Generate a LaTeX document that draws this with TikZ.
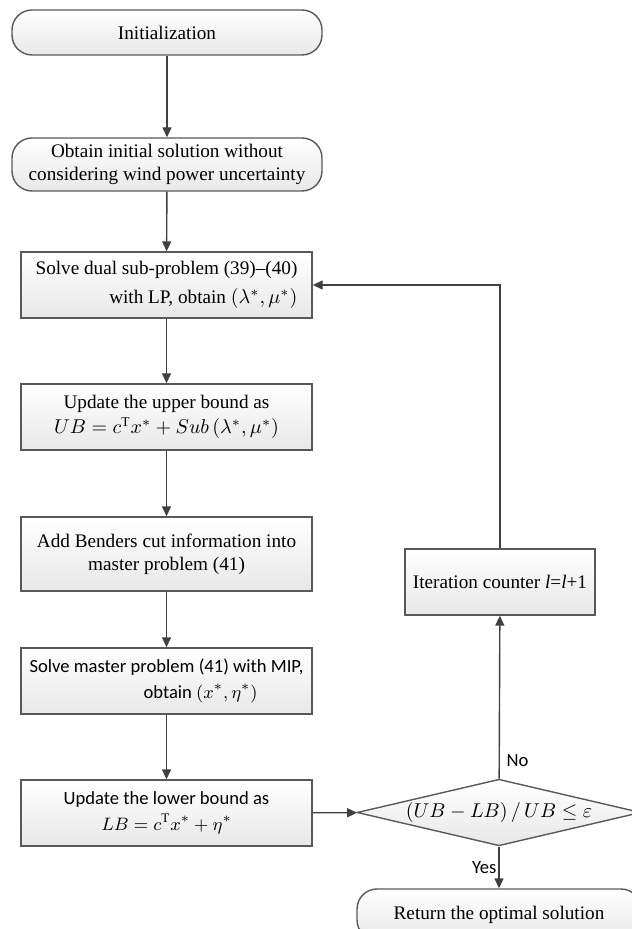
\documentclass[tikz,border=0pt]{standalone}
\usepackage{fontspec}
\setmainfont{Liberation Serif}
\setsansfont{Carlito}
\usetikzlibrary{shapes.geometric,arrows.meta}

\begin{document}
\begin{tikzpicture}[x=0.5pt,y=-0.5pt]
  \tikzstyle{box}=[draw=black!65, line width=0.7pt, top color=white, bottom color=black!9,
    minimum width=145.5pt, minimum height=33pt, inner sep=2pt, font=\fontsize{9.6}{11.5}\selectfont]
  \tikzstyle{term}=[box, rounded corners=10pt]
  \tikzstyle{decision}=[box, diamond, aspect=4, inner sep=0pt, minimum width=142pt, minimum height=32.5pt]
  \tikzstyle{arrow}=[draw=black!75, line width=0.7pt, -{Triangle[length=5pt,width=4.5pt]}]
  \tikzstyle{sans}=[font=\sffamily\fontsize{9.3}{11.8}\selectfont]

  \useasboundingbox (0,0) rectangle (631,929);

  \node[term, minimum width=155pt, minimum height=22.5pt] (init) at (167, 32.5) {Initialization};
  \node[term, minimum width=155pt, minimum height=26.5pt, align=center] (obtain) at (167, 164.5)
    {Obtain initial solution without\\considering wind power uncertainty};
  \node[box, align=right] (dual) at (166.5, 285)
    {Solve dual sub-problem (39)--(40)\\[3pt]with LP, obtain $\left(\lambda^{*},\mu^{*}\right)$};
  \node[box, align=center] (upper) at (166.5, 417)
    {Update the upper bound as\\[1pt]$UB=c^{\mathrm{T}}x^{*}+Sub\left(\lambda^{*},\mu^{*}\right)$};
  \node[box, minimum height=37pt, align=center] (benders) at (166.5, 554)
    {Add Benders cut information into\\master problem (41)};
  \node[box, sans, align=left] (master) at (166.5, 681)
    {Solve master problem (41) with MIP,\\[1pt]\hspace*{57pt}obtain $\left(x^{*},\eta^{*}\right)$};
  \node[box, sans, align=center] (lower) at (166.5, 813)
    {Update the lower bound as\\[1pt]$LB=c^{\mathrm{T}}x^{*}+\eta^{*}$};

  \node[decision] (dec) at (499, 812.5) {$\left(UB-LB\right)/\,UB\leq\varepsilon$};
  \node[box, minimum width=95pt] (iter) at (500, 582) {Iteration counter \textit{l}=\textit{l}+1};
  \node[term, minimum width=142pt, minimum height=25.5pt] (ret) at (499, 914.5) {Return the optimal solution};

  \draw[arrow] (init) -- (obtain);
  \draw[arrow] (obtain) -- (dual);
  \draw[arrow] (dual) -- (upper);
  \draw[arrow] (upper) -- (benders);
  \draw[arrow] (benders) -- (master);
  \draw[arrow] (master) -- (lower);
  \draw[arrow] (lower) -- (dec);
  \draw[arrow] (dec) -- node[sans, right, pos=0.11] {No} (iter);
  \draw[arrow] (iter) |- (dual);
  \draw[arrow] (dec) -- node[sans, left, pos=0.5, inner sep=1pt] {Yes} (ret);

\end{tikzpicture}
\end{document}
